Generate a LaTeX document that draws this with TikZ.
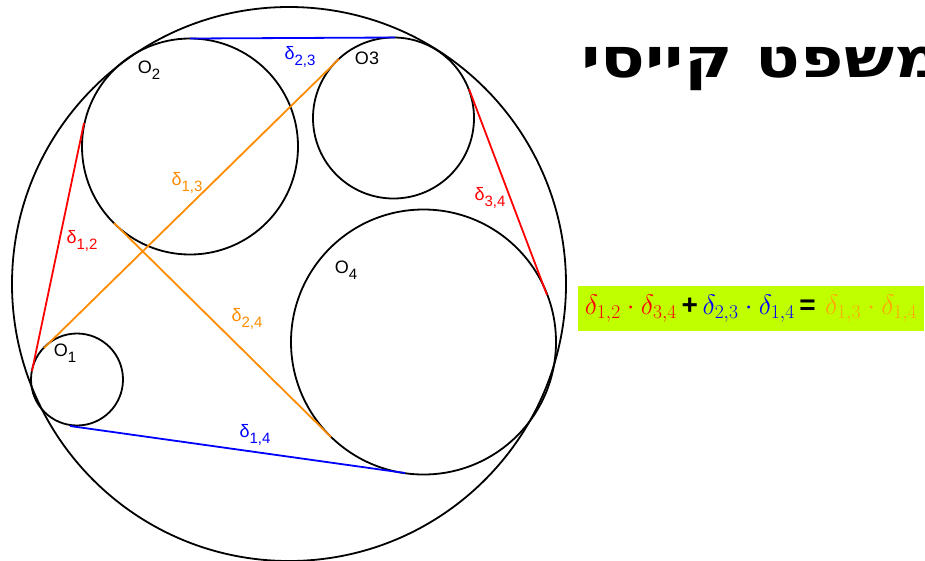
\documentclass[tikz,border=0pt]{standalone}
\usepackage[no-math]{fontspec}
\usepackage{fix-cm}
\setmainfont{Liberation Sans}
\newfontfamily\hebfont[Script=Hebrew]{DejaVu Sans}
\TeXXeTstate=1
\usepackage{tikz}
\usetikzlibrary{calc}
\definecolor{tanorange}{RGB}{255,140,0}
\definecolor{eqorange}{RGB}{255,168,0}
\definecolor{eqlime}{RGB}{192,255,0}
\tikzset{%
  circ/.style={draw=black,line width=1.8pt},
  tline/.style={line width=1.8pt},
  lbl/.style={inner sep=0pt,font=\fontsize{18}{18}\selectfont}%
}
\newcommand{\sublbl}[2]{#1\raisebox{-5.5pt}{\fontsize{15}{15}\selectfont #2}}

\begin{document}
\begin{tikzpicture}[
    x=1pt,
    y=-1pt,
    eqbox/.style={
        fill=eqlime,
        inner sep=0pt,
        minimum width=346pt,
        minimum height=45pt,
        font=\fontsize{28}{28}\selectfont
    },
    title/.style={
        inner sep=0pt,
        anchor=base west,
        font=\hebfont\bfseries\fontsize{55}{60}\selectfont
    }
]
\useasboundingbox (0,0) rectangle (925,560);

% circle centres
\coordinate (C)  at (289,284);
\coordinate (O1) at (77,379.5);
\coordinate (O2) at (190,146.5);
\coordinate (O3) at (393.5,118);
\coordinate (O4) at (423.5,342);

\draw[circ] (C)  circle[radius=277];
\draw[circ] (O1) circle[radius=46];
\draw[circ] (O2) circle[radius=108];
\draw[circ] (O3) circle[radius=80.5];
\draw[circ] (O4) circle[radius=132.5];

% tangent points
\coordinate (t12a) at (84,123);
\coordinate (t12b) at (32,371);
\coordinate (t23a) at (190,38.5);
\coordinate (t23b) at (395,37.5);
\coordinate (t34a) at (469,89);
\coordinate (t34b) at (547,295);
\coordinate (t14a) at (70,426);
\coordinate (t14b) at (405,473);
\coordinate (t13a) at (44,348);
\coordinate (t13b) at (339,59);
\coordinate (t24a) at (114,223);
\coordinate (t24b) at (331,437);

\draw[tline,red] (t12a) -- (t12b);
\draw[tline,blue] (t23a) -- (t23b);
\draw[tline,red] (t34a) -- (t34b);
\draw[tline,blue] (t14a) -- (t14b);
\draw[tline,tanorange] (t13a) -- (t13b);
\draw[tline,tanorange] (t24a) -- (t24b);

\node[lbl] (lo1) at (65,353) {\sublbl{O}{1}};
\node[lbl] (lo2) at (149,70) {\sublbl{O}{2}};
\node[lbl] (lo3) at (367,58) {O3};
\node[lbl] (lo4) at (346,270) {\sublbl{O}{4}};

\node[lbl,red] (l12) at (82,241) {\sublbl{δ}{1,2}};
\node[lbl,blue] (l23) at (300,57) {\sublbl{δ}{2,3}};
\node[lbl,red] (l34) at (490,198) {\sublbl{δ}{3,4}};
\node[lbl,blue] (l14) at (255,435) {\sublbl{δ}{1,4}};
\node[lbl,tanorange] (l13) at (187,183) {\sublbl{δ}{1,3}};
\node[lbl,tanorange] (l24) at (247,319) {\sublbl{δ}{2,4}};

\node[title] (ttl) at (581,77) {\scalebox{1.2}[1]{\beginR משפט קייסי\endR}};

\node[eqbox] (eqn) at (751,308.5)
{$\color{red}\delta_{1,2}\cdot\delta_{3,4}$\,\textbf{+}\,$\color{blue}\delta_{2,3}\cdot\delta_{1,4}$\,\textbf{=}\,\,$\color{eqorange}\delta_{1,3}\cdot\delta_{1,4}$};

\end{tikzpicture}
\end{document}
